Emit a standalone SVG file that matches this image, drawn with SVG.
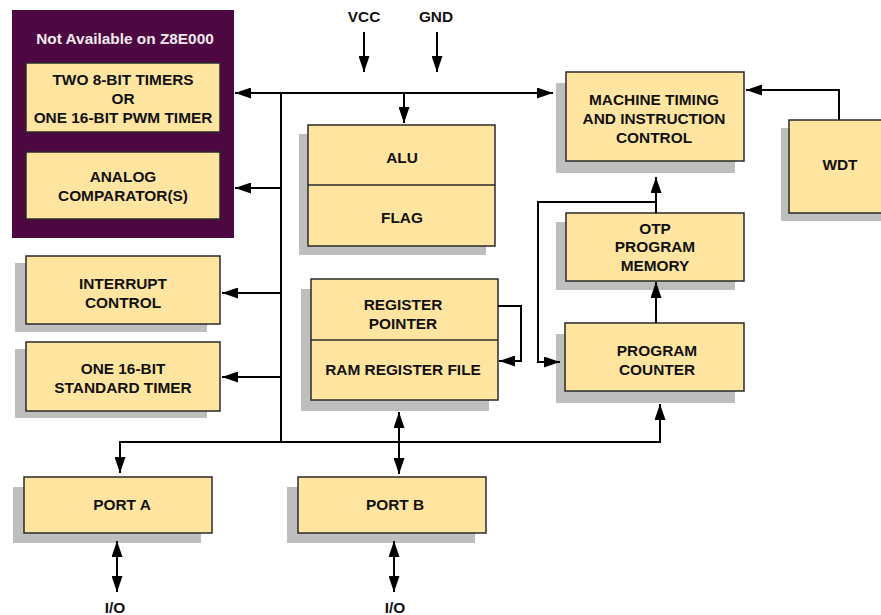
<svg xmlns="http://www.w3.org/2000/svg" width="881" height="615" viewBox="0 0 881 615">
<style>
.box{fill:#FFE59F;stroke:#2a2a2a;stroke-width:1.5}
.sh{fill:#BEBEBE}
.t{font-family:"Liberation Sans",Arial,sans-serif;font-weight:bold;font-size:15.4px;fill:#111;text-anchor:middle}
.w{fill:#F2EAF0}
.c{fill:none;stroke:#000;stroke-width:2}
</style>
<defs>
<marker id="ah" viewBox="0 0 16 11" refX="16" refY="5.5" markerWidth="16" markerHeight="11" orient="auto-start-reverse" markerUnits="userSpaceOnUse"><path d="M0,0 L16,5.5 L0,11 Z" fill="#000"/></marker>
</defs>
<rect width="881" height="615" fill="#fff"/>

<g id="na-group">
<rect x="12" y="10" width="222" height="228" fill="#4E0841"/>
<text class="t w" x="125" y="44">Not Available on Z8E000</text>
</g>
<g id="timers8">
<rect class="box" x="26" y="63" width="194" height="69"/>
<text class="t" x="123" y="85">TWO 8-BIT TIMERS</text>
<text class="t" x="123" y="104">OR</text>
<text class="t" x="123" y="123">ONE 16-BIT PWM TIMER</text>
</g>
<g id="analog">
<rect class="box" x="26" y="152" width="194" height="67"/>
<text class="t" x="123" y="182">ANALOG</text>
<text class="t" x="123" y="201">COMPARATOR(S)</text>
</g>
<g id="interrupt">
<rect class="sh" x="15" y="263" width="192" height="69"/>
<rect class="box" x="26" y="256" width="194" height="68"/>
<text class="t" x="123" y="289">INTERRUPT</text>
<text class="t" x="123" y="308">CONTROL</text>
</g>
<g id="stdtimer">
<rect class="sh" x="15" y="349" width="192" height="69"/>
<rect class="box" x="26" y="342" width="194" height="69"/>
<text class="t" x="123" y="374">ONE 16-BIT</text>
<text class="t" x="123" y="393">STANDARD TIMER</text>
</g>
<g id="alu">
<rect class="sh" x="299" y="134" width="187" height="121"/>
<rect class="box" x="308" y="125" width="187" height="121"/>
<line x1="308" y1="185" x2="495" y2="185" stroke="#2a2a2a" stroke-width="1.5"/>
<text class="t" x="402" y="163">ALU</text>
<text class="t" x="402" y="223">FLAG</text>
</g>
<g id="register">
<rect class="sh" x="301" y="289" width="188" height="122"/>
<rect class="box" x="311" y="279" width="187" height="121"/>
<line x1="311" y1="340" x2="498" y2="340" stroke="#2a2a2a" stroke-width="1.5"/>
<text class="t" x="403" y="310">REGISTER</text>
<text class="t" x="403" y="329">POINTER</text>
<text class="t" x="403" y="375">RAM REGISTER FILE</text>
</g>
<g id="machine">
<rect class="sh" x="556" y="83" width="179" height="90"/>
<rect class="box" x="566" y="72" width="178" height="89"/>
<text class="t" x="654" y="105">MACHINE TIMING</text>
<text class="t" x="654" y="124">AND INSTRUCTION</text>
<text class="t" x="654" y="143">CONTROL</text>
</g>
<g id="wdt">
<rect class="sh" x="781" y="128" width="100" height="93"/>
<rect class="box" x="789" y="120" width="100" height="93"/>
<text class="t" x="840" y="170">WDT</text>
</g>
<g id="otp">
<rect class="sh" x="556" y="222" width="179" height="68"/>
<rect class="box" x="566" y="213" width="178" height="68"/>
<text class="t" x="655" y="234">OTP</text>
<text class="t" x="655" y="252">PROGRAM</text>
<text class="t" x="655" y="271">MEMORY</text>
</g>
<g id="pc">
<rect class="sh" x="556" y="334" width="179" height="69"/>
<rect class="box" x="565" y="323" width="179" height="68"/>
<text class="t" x="657" y="356">PROGRAM</text>
<text class="t" x="657" y="375">COUNTER</text>
</g>
<g id="porta">
<rect class="sh" x="13" y="487" width="188" height="56"/>
<rect class="box" x="24" y="477" width="188" height="56"/>
<text class="t" x="122" y="510">PORT A</text>
</g>
<g id="portb">
<rect class="sh" x="287" y="487" width="188" height="56"/>
<rect class="box" x="298" y="477" width="188" height="56"/>
<text class="t" x="395" y="510">PORT B</text>
</g>
<g id="labels">
<text class="t" x="364" y="22">VCC</text>
<text class="t" x="436" y="22">GND</text>
<text class="t" x="115" y="613">I/O</text>
<text class="t" x="395" y="613">I/O</text>
</g>

<g id="connectors">
<line class="c" x1="364" y1="32" x2="364" y2="72" marker-end="url(#ah)"/>
<line class="c" x1="437" y1="32" x2="437" y2="72" marker-end="url(#ah)"/>
<line class="c" x1="235" y1="93" x2="553" y2="93" marker-start="url(#ah)" marker-end="url(#ah)"/>
<line class="c" x1="404" y1="93" x2="404" y2="123" marker-end="url(#ah)"/>
<line class="c" x1="281" y1="92" x2="281" y2="443"/>
<line class="c" x1="281" y1="188" x2="235" y2="188" marker-end="url(#ah)"/>
<line class="c" x1="281" y1="293" x2="222" y2="293" marker-end="url(#ah)"/>
<line class="c" x1="281" y1="377" x2="222" y2="377" marker-end="url(#ah)"/>
<path class="c" d="M120,473 V442 H660 V404" marker-start="url(#ah)" marker-end="url(#ah)"/>
<line class="c" x1="399" y1="412" x2="399" y2="474" marker-start="url(#ah)" marker-end="url(#ah)"/>
<path class="c" d="M498,306 H521 V361 H499" marker-end="url(#ah)"/>
<line class="c" x1="656" y1="323" x2="656" y2="282" marker-end="url(#ah)"/>
<line class="c" x1="656" y1="213" x2="656" y2="177" marker-end="url(#ah)"/>
<path class="c" d="M656,202 H538 V362 H560" marker-end="url(#ah)"/>
<path class="c" d="M839,120 V90 H746" marker-end="url(#ah)"/>
<line class="c" x1="117" y1="541" x2="117" y2="592" marker-start="url(#ah)" marker-end="url(#ah)"/>
<line class="c" x1="394" y1="541" x2="394" y2="592" marker-start="url(#ah)" marker-end="url(#ah)"/>
</g>
</svg>
